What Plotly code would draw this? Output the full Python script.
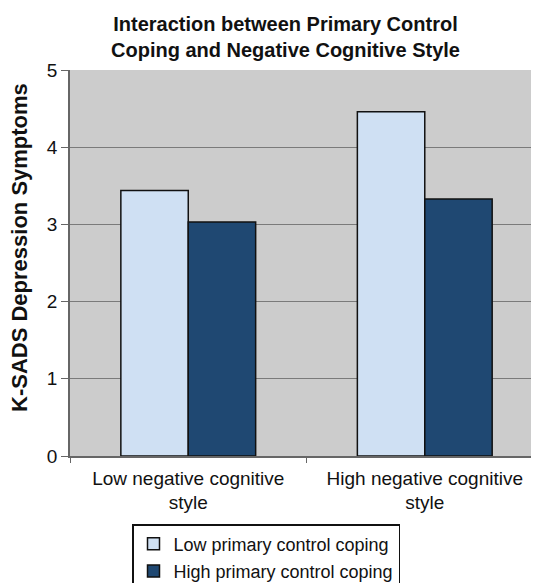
import plotly.graph_objects as go

categories = ["Low negative cognitive<br>style", "High negative cognitive<br>style"]
series_names = ["Low primary control coping", "High primary control coping"]
low_pcc = [3.44, 4.46]
high_pcc = [3.03, 3.33]
colors = ["#cfe0f3", "#1f4872"]

fig = go.Figure()
for i, (name, vals) in enumerate(zip(series_names, [low_pcc, high_pcc])):
    fig.add_trace(go.Bar(
        x=categories, y=vals, name=name, legendgroup=f"g{i}",
        marker=dict(color=colors[i], line=dict(color="#111111", width=1.5)),
    ))

# page body adds an 8px offset, so figure coords = viewport coords - 8
OFF = 8
W, H = 539 - OFF, 583 - OFF
ml, mr, mt = 70 - OFF, 0, 70 - OFF
plot_bottom = 456 - OFF
mb = H - plot_bottom
pw, ph = W - ml - mr, plot_bottom - mt

def px_x(vx):
    return (vx - OFF - ml) / pw

def px_y(vy):
    return (plot_bottom - (vy - OFF)) / ph

fig.update_layout(
    width=W, height=H,
    margin=dict(l=ml, r=mr, t=mt, b=mb, autoexpand=False),
    paper_bgcolor="white", plot_bgcolor="#cccccc",
    barmode="group", bargap=0.43, bargroupgap=0,
    font=dict(family="Liberation Sans, Arial", color="#111111", size=19),
    showlegend=True,
    legend=dict(
        x=px_x(132), y=px_y(524),
        xanchor="left", yanchor="top",
        bordercolor="#111111", borderwidth=1.5, bgcolor="white",
        font=dict(size=18), traceorder="grouped", tracegroupgap=1,
    ),
    xaxis=dict(
        range=[-0.5, 1.483], showgrid=False, ticks="outside", tickson="boundaries",
        ticklen=5, tickcolor="#666666", showline=True, linecolor="#666666", linewidth=1.5,
        tickfont=dict(size=19), ticklabelstandoff=4,
    ),
    yaxis=dict(
        range=[0, 5], dtick=1, showgrid=True, gridcolor="#7a7a7a", gridwidth=1.2,
        ticks="outside", ticklen=7, tickcolor="#666666", showline=True,
        linecolor="#666666", linewidth=1.5, zeroline=False,
        tickfont=dict(size=19),
    ),
    annotations=[
        dict(
            text="<b>Interaction between Primary Control<br>Coping and Negative Cognitive Style</b>",
            xref="paper", yref="paper", x=px_x(285), y=px_y(11),
            xanchor="center", yanchor="top", showarrow=False, font=dict(size=20),
        ),
        dict(
            text="<b>K-SADS Depression Symptoms</b>", textangle=-90,
            xref="paper", yref="paper", x=px_x(19), y=px_y(248),
            xanchor="center", yanchor="middle", showarrow=False, font=dict(size=22),
        ),
    ],
)
fig.write_html("out.html")
